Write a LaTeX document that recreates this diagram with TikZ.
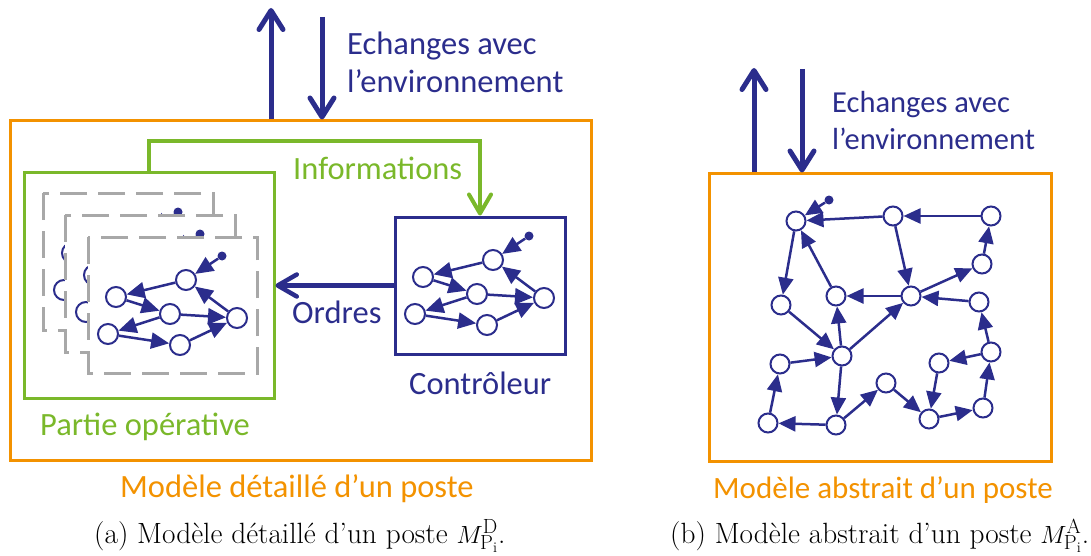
\documentclass[tikz,border=0pt]{standalone}
\usepackage{fontspec}
\newfontfamily\calib{Carlito}
\usetikzlibrary{arrows.meta}

\definecolor{navy}{RGB}{43,45,140}
\definecolor{orng}{RGB}{243,146,0}
\definecolor{grn}{RGB}{122,184,42}
\definecolor{dashgray}{RGB}{168,168,168}

\tikzset{
  st/.style={circle, draw=navy, fill=white, line width=2pt, minimum size=19pt, inner sep=0pt},
  stbig/.style={st, minimum size=20pt},
  startdot/.style={circle, fill=navy, minimum size=9pt, inner sep=0pt},
  tr/.style={draw=navy, line width=2.5pt, -{Triangle[length=17pt,width=15pt]}},
  trbig/.style={draw=navy, line width=2.5pt, -{Triangle[length=18pt,width=16pt]}},
  postbox/.style={draw=orng, line width=3pt, rectangle, inner sep=0pt},
  opframe/.style={draw=grn, line width=3pt, rectangle, inner sep=0pt},
  ctlframe/.style={draw=navy, line width=3pt, rectangle, inner sep=0pt, fill=white},
  opcopy/.style={draw=dashgray, fill=white, line width=3pt, dash pattern=on 27pt off 11pt},
  envarrow/.style={draw=navy, line width=5pt, -{Straight Barb[length=19pt,width=24pt,line cap=round,line join=round]}},
  infoarrow/.style={draw=grn, line width=4pt, -{Straight Barb[length=19pt,width=22pt,line cap=round,line join=round]}},
  ordarrow/.style={draw=navy, line width=4.5pt, -{Straight Barb[length=19pt,width=22pt,line cap=round,line join=round]}},
  sanslbl/.style={font=\calib\fontsize{32.5}{39}\selectfont, inner sep=0pt, anchor=base west},
  sanslblsmall/.style={font=\calib\fontsize{30.5}{36}\selectfont, inner sep=0pt, anchor=base west},
  sanslblright/.style={font=\calib\fontsize{31}{37}\selectfont, inner sep=0pt, anchor=base west},
  caplbl/.style={font=\fontsize{29.3}{35}\selectfont, inner sep=0pt, anchor=base west},
}

% small state graph used by the controller and by the operative part
\newcommand\smallgraph[1]{%
  \node[startdot] (#1s) at (529,236) {};
  \node[stbig] (#1a) at (493,260) {};
  \node[stbig] (#1b) at (423,277) {};
  \node[stbig] (#1c) at (477,294) {};
  \node[stbig] (#1d) at (544,298) {};
  \node[stbig] (#1e) at (415,314) {};
  \node[stbig] (#1f) at (487,325) {};
  \draw[trbig] (#1s) -- (#1a);
  \draw[trbig] (#1a) -- (#1b);
  \draw[trbig] (#1b) -- (#1c);
  \draw[trbig] (#1c) -- (#1d);
  \draw[trbig] (#1d) -- (#1a);
  \draw[trbig] (#1c) -- (#1e);
  \draw[trbig] (#1e) -- (#1f);
  \draw[trbig] (#1f) -- (#1d);
}

\begin{document}
\begin{tikzpicture}[x=1pt, y=-1pt]
\useasboundingbox (0,0) rectangle (1091,556);

% ---------------- detailed model ----------------
\node[postbox, minimum width=581pt, minimum height=339pt] (detail) at (300.5,290.5) {};
\node[opframe, minimum width=250pt, minimum height=225pt] (oper) at (149,285.5) {};

% stacked copies of the operative part
\draw[opcopy] (43,193) rectangle (213,330);
\begin{scope}[shift={(-351,-24)}]\smallgraph{pa}\end{scope}
\draw[opcopy] (65,215) rectangle (235,352);
\begin{scope}[shift={(-329,-2)}]\smallgraph{pb}\end{scope}
\draw[opcopy] (88,237) rectangle (257,373);
\begin{scope}[shift={(-307,20)}]\smallgraph{pc}\end{scope}

% controller
\node[ctlframe, minimum width=170pt, minimum height=137pt] (ctl) at (480,285.5) {};
\smallgraph{c}

% exchanges with the environment
\coordinate (outA) at (271,8);
\coordinate (inA) at (322,17);
\draw[envarrow] (detail.north -| outA) -- (outA);
\draw[envarrow] (inA) -- (inA |- detail.north);
\node[sanslbl, text=navy] (envA1) at (347,55) {Echanges avec};
\node[sanslbl, text=navy] (envA2) at (347,93) {l’environnement};

% information and orders
\coordinate (infoTurn) at (480,141);
\draw[infoarrow] (oper.north) |- (infoTurn) -- (ctl.north);
\node[sanslbl, text=grn] (infoLbl) at (293,179) {Informations};
\draw[ordarrow] (ctl.west) -- (oper.east);
\node[sanslbl, text=navy] (ordLbl) at (292,323) {Ordres};

\node[sanslbl, text=grn] (operLbl) at (40,435) {Partie opérative};
\node[sanslbl, text=navy] (ctlLbl) at (409,394) {Contrôleur};
\node[sanslbl, text=orng] (detailLbl) at (120,497) {Modèle détaillé d’un poste};
\node[caplbl] (capA) at (94,543) {(a) Modèle détaillé d’un poste $M^{\mathrm{D}}_{\mathrm{P}_\mathrm{i}}$.};

% ---------------- abstract model ----------------
\node[postbox, minimum width=342pt, minimum height=287pt] (abstr) at (880,317.5) {};

\coordinate (outB) at (754,68);
\coordinate (inB) at (802,69);
\draw[envarrow] (abstr.north -| outB) -- (outB);
\draw[envarrow] (inB) -- (inB |- abstr.north);
\node[sanslblsmall, text=navy] (envB1) at (832,113) {Echanges avec};
\node[sanslblsmall, text=navy] (envB2) at (832,150) {l’environnement};

\node[startdot] (rs) at (829,200) {};
\node[st] (rA) at (796,221) {};
\node[st] (rB) at (893,216) {};
\node[st] (rC) at (991,216) {};
\node[st] (rD) at (982,264) {};
\node[st] (rE) at (781,305) {};
\node[st] (rF) at (836,296) {};
\node[st] (rG) at (911,296) {};
\node[st] (rH) at (979,302) {};
\node[st] (rI) at (780,364) {};
\node[st] (rJ) at (842,356) {};
\node[st] (rK) at (939,363) {};
\node[st] (rL) at (991,352) {};
\node[st] (rM) at (768,423) {};
\node[st] (rN) at (836,425) {};
\node[st] (rO) at (886,383) {};
\node[st] (rP) at (929,419) {};
\node[st] (rQ) at (983,408) {};

\draw[tr] (rs) -- (rA);
\draw[tr] (rB) -- (rA);
\draw[tr] (rC) -- (rB);
\draw[tr] (rB) -- (rG);
\draw[tr] (rD) -- (rC);
\draw[tr] (rG) -- (rD);
\draw[tr] (rG) -- (rF);
\draw[tr] (rH) -- (rG);
\draw[tr] (rF) -- (rA);
\draw[tr] (rA) -- (rE);
\draw[tr] (rE) -- (rJ);
\draw[tr] (rJ) -- (rF);
\draw[tr] (rJ) -- (rG);
\draw[tr] (rI) -- (rJ);
\draw[tr] (rM) -- (rI);
\draw[tr] (rN) -- (rM);
\draw[tr] (rJ) -- (rN);
\draw[tr] (rN) -- (rO);
\draw[tr] (rO) -- (rP);
\draw[tr] (rK) -- (rP);
\draw[tr] (rP) -- (rQ);
\draw[tr] (rQ) -- (rL);
\draw[tr] (rL) -- (rH);
\draw[tr] (rL) -- (rK);

\node[sanslblright, text=orng] (abstrLbl) at (713,498) {Modèle abstrait d’un poste};
\node[caplbl] (capB) at (670,543) {(b) Modèle abstrait d’un poste $M^{\mathrm{A}}_{\mathrm{P}_\mathrm{i}}$.};
\end{tikzpicture}
\end{document}
